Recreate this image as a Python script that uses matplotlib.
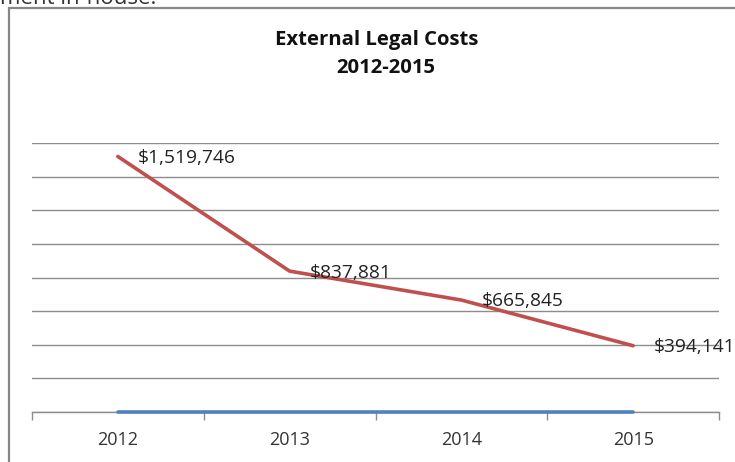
import matplotlib
matplotlib.use("Agg")
import matplotlib.pyplot as plt
from matplotlib.patches import Rectangle

categories = ["2012", "2013", "2014", "2015"]
legal_costs = [1519746, 837881, 665845, 394141]
other_series = [0, 0, 0, 0]
cost_labels = ["$1,519,746", "$837,881", "$665,845", "$394,141"]
title_line1 = "External Legal Costs"
title_line2 = "2012-2015"
cut_text = "ment in-house."

W, H = 735, 462
fig = plt.figure(figsize=(W / 100, H / 100), dpi=100)
plt.rcParams['font.family'] = ['Open Sans', 'DejaVu Sans']

# chart border (left and top visible)
fig.patches.append(Rectangle((9 / W, -0.1), 1.2, (H - 8) / H + 0.1,
                             transform=fig.transFigure, fill=False,
                             edgecolor='#878787', linewidth=1.6))
# partially visible text above the chart
fig.text(0 / W, (H - 3.5) / H, cut_text, fontsize=16, color='#333333',
         va='baseline', ha='left')

ax = fig.add_axes([32 / W, (H - 412) / H, (719 - 32) / W, (412 - 143) / H])
x = list(range(len(categories)))
ax.set_xlim(-0.5, len(categories) - 0.5)
ax.set_ylim(0, 1600000)
ax.set_yticks(range(0, 1600001, 200000))
ax.yaxis.grid(True, color='#8c8c8c', linewidth=1.0)
ax.set_axisbelow(True)
ax.tick_params(axis='y', left=False, labelleft=False)
for s in ['top', 'left', 'right']:
    ax.spines[s].set_visible(False)
ax.spines['bottom'].set_color('#8c8c8c')
ax.spines['bottom'].set_linewidth(1.0)

ax.set_xticks([i - 0.5 for i in range(len(categories) + 1)])
ax.set_xticklabels([])
ax.set_xticks(x, minor=True)
ax.set_xticklabels(categories, minor=True, fontsize=13, color='#333333')
ax.tick_params(axis='x', which='major', length=6, color='#8c8c8c', width=1.0)
ax.tick_params(axis='x', which='minor', length=0, pad=14)

ax.plot(x, other_series, color='#4F81BD', linewidth=2.6, solid_capstyle='round',
        clip_on=False, zorder=3)
ax.plot(x, legal_costs, color='#C0504D', linewidth=2.6, solid_capstyle='round',
        solid_joinstyle='round', clip_on=False, zorder=4)
for xi, yi, lab in zip(x, legal_costs, cost_labels):
    ax.annotate(lab, (xi, yi), xytext=(14.5, -1), textcoords='offset points',
                ha='left', va='center', fontsize=13.8, color='#222222',
                annotation_clip=False, zorder=5)

fig.text(377 / W, (H - 40) / H, title_line1, ha='center', va='center',
         fontsize=14.6, fontweight='bold', color='#111111')
fig.text(386 / W, (H - 68) / H, title_line2, ha='center', va='center',
         fontsize=14.6, fontweight='bold', color='#111111')

fig.savefig("out.png", dpi=100)
